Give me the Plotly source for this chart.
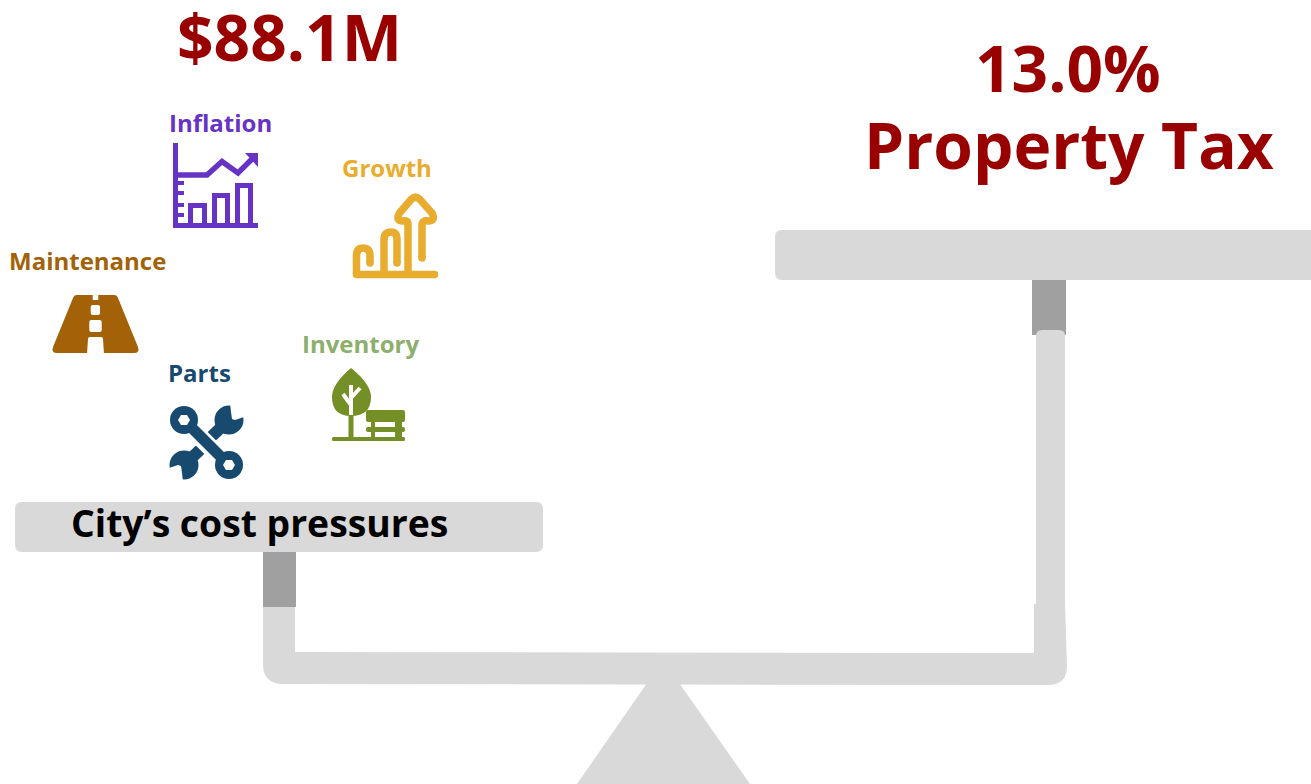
import plotly.graph_objects as go

W, H = 1311, 784
FONT = "Open Sans"
RED = "#990000"
PLATE = "#D9D9D9"
POST = "#A0A0A0"
PURPLE = "#6633C4"
GOLD = "#E8AC2E"
BROWN = "#A36207"
NAVY = "#174A6E"
SAGE = "#8DAF6C"
OLIVE = "#748F25"

# text: label, x centre, y centre, size, colour, box height (None = automatic)
labels = ["$88.1M", "13.0%", "Property Tax", "Inflation", "Growth", "Maintenance", "Parts", "Inventory", "City\u2019s cost pressures"]
label_x = [289.5, 1068, 1068.5, 220.5, 386.5, 87.5, 199.5, 360.5, 259.5]
label_y = [36, 67, 144, 122, 167, 260, 372, 343, 522]
label_size = [64, 64, 64, 24, 24, 24, 24, 24, 37.3]
label_color = [RED, RED, RED, PURPLE, GOLD, BROWN, NAVY, SAGE, "#000000"]
label_box = [70, 62, None, None, None, None, None, None, None]

shapes = []


def fill(path, color):
    shapes.append(dict(type="path", path=path, fillcolor=color, line=dict(width=0), layer="above"))


def stroke(path, color, width):
    shapes.append(dict(type="path", path=path, line=dict(color=color, width=width), fillcolor="rgba(0,0,0,0)", layer="above"))


def rrect(x0, y0, x1, y1, r, color):
    fill(f"M{x0+r},{y0}L{x1-r},{y0}Q{x1},{y0} {x1},{y0+r}L{x1},{y1-r}Q{x1},{y1} {x1-r},{y1}"
         f"L{x0+r},{y1}Q{x0},{y1} {x0},{y1-r}L{x0},{y0+r}Q{x0},{y0} {x0+r},{y0}Z", color)


def rect(x0, y0, x1, y1, color):
    fill(f"M{x0},{y0}L{x1},{y0}L{x1},{y1}L{x0},{y1}Z", color)


def disc(cx, cy, r, color):
    shapes.append(dict(type="circle", x0=cx-r, x1=cx+r, y0=cy-r, y1=cy+r, fillcolor=color, line=dict(width=0), layer="above"))


def seg(x0, y0, x1, y1, color, width):
    stroke(f"M{x0},{y0}L{x1},{y1}", color, width)


# ---- balance ----
fill("M663,660L750,784L577,784Z", PLATE)
rrect(15, 502, 543, 552, 7, PLATE)
rrect(775, 230, 1330, 280, 7, PLATE)
rect(263, 552, 296, 607, POST)
rect(1032, 280, 1066, 335, POST)
fill("M263,607L295,607L295,652L1034,653L1034,604L1065,604L1067,666Q1067,685 1048,685L283,684Q263,684 263,664Z", PLATE)
rrect(1036, 330, 1065, 610, 6, PLATE)

# ---- inflation icon ----
rect(173, 143, 178, 228, PURPLE)
rect(173, 223, 258, 228, PURPLE)
for ty in [181, 191, 203, 213]:
    rect(178, ty, 184, ty + 4, PURPLE)
for x0, y0, x1 in [(190.5, 205.5, 204.5), (214.5, 195.5, 227.5), (237.5, 185.5, 250.5)]:
    stroke(f"M{x0},225L{x0},{y0}L{x1},{y0}L{x1},225", PURPLE, 5)
stroke("M176,175L207,175L222,161.5L238,173L254,157", PURPLE, 5.5)
fill("M245,153L258,153L258,167Z", PURPLE)

# ---- growth icon ----
stroke("M356.5,274L356.5,256Q356.5,248 363,248Q370,248 370,256L370,263", GOLD, 7.5)
stroke("M356.5,274.5L434.5,274.5", GOLD, 7.5)
stroke("M384,275L384,240Q384,232 391,232Q397,232 397,240L397,263", GOLD, 7.5)
stroke("M408,275L408,224Q408,220 403,221Q395,221 399.5,213L411,199.5Q415.5,195 420,199.5L432,213"
       "Q436,221 428,221Q422,220 422,225L422,258", GOLD, 7.5)
for cx, cy in [(356.5, 274.5), (434.5, 274.5), (370, 263), (397, 263), (422, 258)]:
    disc(cx, cy, 3.75, GOLD)

# ---- road icon ----
fill("M77,295L114,295Q117,295 118,298L138,347Q140,353 134,353L57,353Q51,353 53,347L73,298Q74,295 77,295Z", BROWN)
rect(92.7, 295, 98.3, 300, "#FFFFFF")
rrect(90.7, 305, 100, 315, 2, "#FFFFFF")
rrect(89.3, 320, 101.7, 332, 2, "#FFFFFF")
fill("M90,337L101,337Q103,337 103,339L104,354L87,354L88,339Q88,337 90,337Z", "#FFFFFF")

# ---- tools icon ----
disc(229, 420, 14.5, NAVY)
disc(184, 465, 14.5, NAVY)
seg(229, 420, 211, 437, NAVY, 12)
seg(184, 465, 202, 448, NAVY, 12)
fill("M230,403L231,412L232,419L235,420L244,417L247,403Z", "#FFFFFF")
fill("M183,482L182,473L181,466L178,465L169,468L166,482Z", "#FFFFFF")
seg(180, 417, 232, 469, "#FFFFFF", 18)
disc(184, 420, 14, NAVY)
disc(229, 465, 14, NAVY)
seg(184, 420, 229, 465, NAVY, 11)
fill("M178,420L181,415L187,415L190,420L187,425L181,425Z", "#FFFFFF")
fill("M223,465L226,460L232,460L235,465L232,470L226,470Z", "#FFFFFF")

# ---- tree and bench icon ----
fill("M351,368Q371,384 371,397Q371,416 351,416Q332,416 332,397Q332,384 351,368Z", OLIVE)
seg(351, 385, 351, 416, "#FFFFFF", 4)
seg(343, 394, 351, 405, "#FFFFFF", 4)
seg(360, 388, 351, 398, "#FFFFFF", 4)
seg(351, 415, 351, 438, OLIVE, 5)
rrect(332, 437, 405, 441, 1.5, OLIVE)
rrect(366, 410, 405, 422, 2, OLIVE)
rrect(366, 427, 405, 432, 2, OLIVE)
rect(371, 422, 375, 438, OLIVE)
rect(395, 422, 402, 438, OLIVE)

annotations = [
    dict(text=f"<b>{t}</b>", x=x, y=y, xref="x", yref="y", xanchor="center", yanchor="middle",
         showarrow=False, font=dict(family=FONT, size=s, color=c), height=b)
    for t, x, y, s, c, b in zip(labels, label_x, label_y, label_size, label_color, label_box)
]

fig = go.Figure()
fig.update_layout(
    width=W, height=H, margin=dict(l=0, r=0, t=0, b=0),
    paper_bgcolor="#FFFFFF", plot_bgcolor="#FFFFFF", showlegend=False,
    xaxis=dict(range=[0, W], visible=False, fixedrange=True),
    yaxis=dict(range=[H, 0], visible=False, fixedrange=True),
    shapes=shapes, annotations=annotations,
)
fig.write_html("out.html", post_script="document.body.style.margin='0';", config={"displayModeBar": False})
